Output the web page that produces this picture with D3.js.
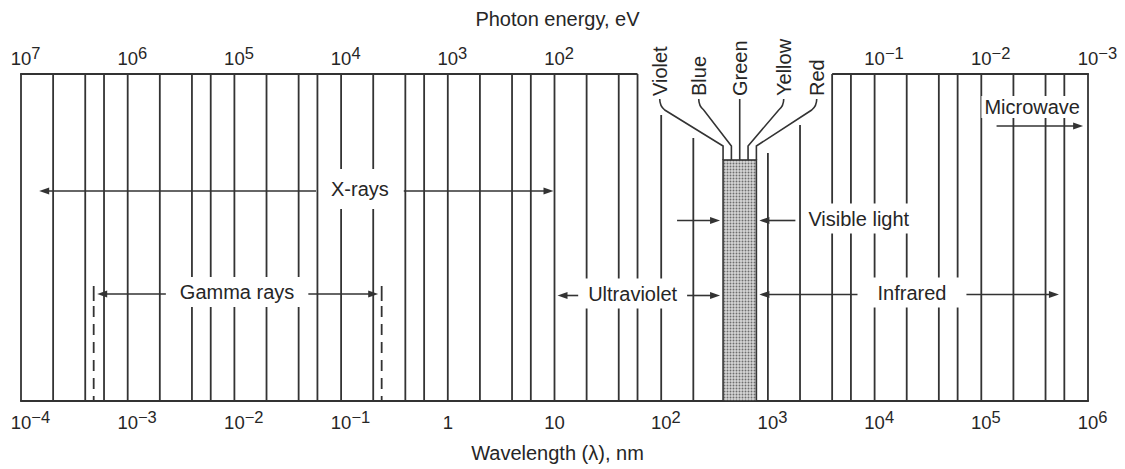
<!DOCTYPE html>
<html>
<head>
<meta charset="utf-8">
<script src="https://cdn.jsdelivr.net/npm/d3@7"></script>
<style>
  body { margin: 0; background: #fff; }
  svg { display: block; }
  text { font-family: "Liberation Sans", Arial, Helvetica, sans-serif; fill: #262626; }
</style>
</head>
<body>
<script>
// bottom axis: wavelength, nm
const wavelengthTicks = [1e-4, 1e-3, 1e-2, 1e-1, 1, 10, 1e2, 1e3, 1e4, 1e5, 1e6];
const wavelengthLabels = [["10", "−4"], ["10", "−3"], ["10", "−2"], ["10", "−1"], ["1", ""], ["10", ""],
  ["10", "2"], ["10", "3"], ["10", "4"], ["10", "5"], ["10", "6"]];

// top axis: photon energy, eV (10 and 1 eV are left out, the colour names sit there)
const energyTicks = [1e7, 1e6, 1e5, 1e4, 1e3, 1e2, 1e-1, 1e-2, 1e-3];
const energyLabels = [["10", "7"], ["10", "6"], ["10", "5"], ["10", "4"], ["10", "3"], ["10", "2"],
  ["10", "−1"], ["10", "−2"], ["10", "−3"]];

// grid lines drawn at these multiples of each decade
const gridSteps = [1, 2, 4, 6];

// bands, in nm
const bandNames = ["X-rays", "Gamma rays", "Ultraviolet", "Infrared"];
const bandFrom = [1.45e-4, 4.8e-4, 10, 780];
const bandTo = [10, 0.24, 380, 5.7e5];
const bandLabelAt = [0.15, 0.0106, 54, 2.24e4];

const visibleRange = [380, 780];
const visibleColors = ["Violet", "Blue", "Green", "Yellow", "Red"];

const microwaveRange = [1.39e5, 9e5];
const microwaveLabelAt = 3e5;

// where the top frame line is open (nm)
const topGap = [60, 4000];

const width = 1125, height = 469;
const yTop = 74, yBottom = 401;
const ink = "#333";

const x = d3.scaleLog().domain([1e-4, 1e6]).range([21, 1088]);
const xE = d3.scaleLog().domain([1e7, 1e-3]).range([21, 1088]);

const svg = d3.select("body").append("svg")
    .attr("width", width)
    .attr("height", height);

const defs = svg.append("defs");
const pat = defs.append("pattern")
    .attr("id", "stipple")
    .attr("width", 3).attr("height", 3)
    .attr("patternUnits", "userSpaceOnUse");
pat.append("rect").attr("width", 3).attr("height", 3).attr("fill", "#d6d6d6");
pat.append("circle").attr("cx", 1.5).attr("cy", 1.5).attr("r", 0.95).attr("fill", "#6e6e6e");

// grid values
const grid = [];
wavelengthTicks.slice(0, -1).forEach(d => gridSteps.forEach(s => grid.push(d * s)));
grid.push(wavelengthTicks[wavelengthTicks.length - 1]);

// lines inside the open part of the frame start lower, under the colour leaders
const gapLineTop = { 100: 115, 200: 138, 400: 160, 600: 160, 1000: 153, 2000: 125 };

svg.append("g").selectAll("line")
    .data(grid)
  .enter().append("line")
    .attr("x1", d => x(d)).attr("x2", d => x(d))
    .attr("y1", d => {
      const k = Math.round(d);
      return (d > topGap[0] && d < topGap[1] && gapLineTop[k]) ? gapLineTop[k] : yTop;
    })
    .attr("y2", yBottom)
    .attr("stroke", ink)
    .attr("stroke-width", 1.8);

// frame
const frame = svg.append("g").attr("stroke", ink).attr("stroke-width", 1.8);
frame.append("line").attr("x1", x(1e-4) - 0.9).attr("x2", x(topGap[0])).attr("y1", yTop).attr("y2", yTop);
frame.append("line").attr("x1", x(topGap[1])).attr("x2", x(1e6) + 0.9).attr("y1", yTop).attr("y2", yTop);
frame.append("line").attr("x1", x(1e-4) - 0.9).attr("x2", x(1e6) + 0.9).attr("y1", yBottom).attr("y2", yBottom);

// visible band
const vx0 = x(visibleRange[0]), vx1 = x(visibleRange[1]);
const vTop = 160;
svg.append("rect")
    .attr("x", vx0).attr("y", vTop)
    .attr("width", vx1 - vx0).attr("height", yBottom - vTop)
    .attr("fill", "url(#stipple)")
    .attr("stroke", ink).attr("stroke-width", 1.6);

// helpers
function arrow(g, x1, x2, y) {
  const dir = x2 > x1 ? 1 : -1;
  g.append("line").attr("x1", x1).attr("x2", x2 - dir * 6).attr("y1", y).attr("y2", y)
      .attr("stroke", ink).attr("stroke-width", 1.6);
  g.append("path")
      .attr("d", `M${x2},${y} L${x2 - dir * 10},${y - 3.6} L${x2 - dir * 10},${y + 3.6} Z`)
      .attr("fill", ink);
}

// label on a white patch that breaks the grid lines behind it
function knockoutLabel(g, txt, cx, cy, padX, h, anchor) {
  const kg = g.append("g");
  const bg = kg.append("rect").attr("fill", "#fff");
  const t = kg.append("text")
      .attr("x", cx).attr("y", cy).attr("dy", "0.36em")
      .attr("text-anchor", anchor || "middle")
      .attr("font-size", 20)
      .text(txt);
  const w = t.node().getComputedTextLength();
  const left = anchor === "start" ? cx : cx - w / 2;
  bg.attr("x", left - padX).attr("y", cy - h / 2)
      .attr("width", w + 2 * padX).attr("height", h);
  return { left: left, right: left + w };
}

const ann = svg.append("g");

// band rows: y, knockout height, horizontal padding, arrow gap
const bandLayout = [
  { y: 191, h: 40, pad: 10, gap: 15 },
  { y: 294, h: 30, pad: 8, gap: 14 },
  { y: 295.5, h: 30, pad: 6, gap: 10 },
  { y: 294.5, h: 30, pad: 14, gap: 20 }
];

bandNames.forEach((name, i) => {
  const L = bandLayout[i];
  const g = ann.append("g");
  const box = knockoutLabel(g, name, x(bandLabelAt[i]), L.y - 2, L.pad, L.h);
  const a = x(bandFrom[i]), b = x(bandTo[i]);
  const inset = name === "Gamma rays" ? 3.5 : (name === "X-rays" ? 1 : 3);
  arrow(g, box.left - L.gap, a + inset, L.y);
  arrow(g, box.right + L.gap, b - inset, L.y);
  if (name === "Gamma rays") {
    [a, b].forEach(px => {
      g.append("line").attr("x1", px).attr("x2", px).attr("y1", L.y - 8).attr("y2", L.y + 7)
          .attr("stroke", ink).attr("stroke-width", 1.8);
      g.append("line").attr("x1", px).attr("x2", px).attr("y1", L.y + 12).attr("y2", yBottom - 1)
          .attr("stroke", ink).attr("stroke-width", 1.8)
          .attr("stroke-dasharray", "11,7");
    });
  }
});

// visible light arrows and label
const visY = 220.5;
arrow(ann, vx0 - 46, vx0 - 3, visY);
arrow(ann, vx1 + 39, vx1 + 3, visY);
knockoutLabel(ann, "Visible light", vx1 + 52, visY - 2, 4, 30, "start");

// microwave
const mw = ann.append("g");
knockoutLabel(mw, "Microwave", x(microwaveLabelAt), 107, 3, 22);
arrow(mw, x(microwaveRange[0]), x(microwaveRange[1]), 126);

// colour names with leader lines to the top of the visible band
const vc = (vx0 + vx1) / 2;
const colourOffset = [-80, -41, 0, 44, 77];
const leaders = svg.append("g");
visibleColors.forEach((c, i) => {
  const lx = vc + colourOffset[i];
  const ex = vx0 + i * (vx1 - vx0) / (visibleColors.length - 1);
  leaders.append("text")
      .attr("transform", `translate(${lx},96) rotate(-90)`)
      .attr("dy", "0.36em")
      .attr("text-anchor", "start")
      .attr("font-size", 20)
      .text(c);
  const s = Math.sign(ex - lx);
  const d = s === 0
    ? `M${lx},99 L${ex},${vTop}`
    : `M${lx},99 Q${lx},106 ${lx + s * 5},110 L${ex},146 L${ex},${vTop}`;
  leaders.append("path").attr("d", d).attr("fill", "none")
      .attr("stroke", ink).attr("stroke-width", 1.6);
});

// tick labels: base centred on the line, exponent hangs to the right
function tickLabel(g, px, y, lab) {
  const t = g.append("text").attr("y", y).attr("font-size", 18.5);
  const base = t.append("tspan").text(lab[0]);
  if (lab[1]) t.append("tspan").attr("dy", -6).attr("font-size", 16.5).text(lab[1]);
  const w = base.node().getComputedTextLength();
  t.attr("x", px - w / 2);
}

const axisG = svg.append("g");
wavelengthTicks.forEach((d, i) => tickLabel(axisG, x(d), 429, wavelengthLabels[i]));
energyTicks.forEach((d, i) => tickLabel(axisG, xE(d), 65, energyLabels[i]));

svg.append("text")
    .attr("x", (x.range()[0] + x.range()[1]) / 2 + 3).attr("y", 26)
    .attr("text-anchor", "middle").attr("font-size", 20)
    .text("Photon energy, eV");

svg.append("text")
    .attr("x", (x.range()[0] + x.range()[1]) / 2 + 3).attr("y", 460)
    .attr("text-anchor", "middle").attr("font-size", 20)
    .text("Wavelength (λ), nm");
</script>
</body>
</html>
